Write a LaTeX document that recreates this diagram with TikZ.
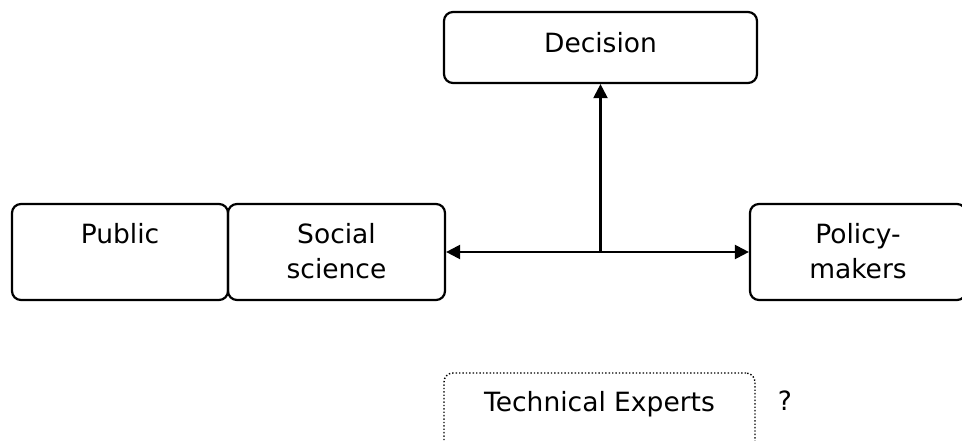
\documentclass[tikz,border=0pt]{standalone}
\usepackage{fontspec}
\setmainfont{DejaVu Sans}
\usetikzlibrary{arrows.meta}
\begin{document}
\begin{tikzpicture}[x=1pt,y=-1pt,
  box/.style={draw, line width=2.2pt, rounded corners=9pt, inner sep=0pt},
  dotbox/.style={draw, line width=1.4pt, rounded corners=9pt, inner sep=0pt, dash pattern=on 1.4pt off 2pt},
  lbl/.style={anchor=north, inner sep=0pt, align=center, font=\fontsize{26.5}{35}\selectfont},
  conn/.style={line width=2.2pt},
  tip/.style={-{Triangle[length=14pt,width=14pt]}}]
\useasboundingbox (0,0) rectangle (962,441);
% boxes
\node[box, minimum width=313pt, minimum height=71pt] (dec) at (600.5,47.5) {};
\node[box, minimum width=216pt, minimum height=96pt] (pub) at (120,252) {};
\node[box, minimum width=217pt, minimum height=96pt] (soc) at (336.5,252) {};
\node[box, minimum width=216pt, minimum height=96pt] (pol) at (858,252) {};
\node[dotbox, minimum width=311pt, minimum height=96pt] (tec) at (599.5,421) {};
% texts
\node[lbl] (decT) at ([yshift=-21pt]dec.north) {Decision};
\node[lbl] (pubT) at ([yshift=-20pt]pub.north) {Public};
\node[lbl] (socT) at ([yshift=-20pt]soc.north) {Social\\science};
\node[lbl] (polT) at ([yshift=-20pt]pol.north) {Policy-\\makers};
\node[lbl] (tecT) at ([yshift=-19pt]tec.north) {Technical Experts};
\node[anchor=base, inner sep=0pt, font=\fontsize{26.5}{35}\selectfont] (q) at (785,410) {?};
% connectors
\coordinate (j) at (dec.south |- soc.east);
\draw[conn, tip] (j) -- (dec.south);
\draw[conn, tip] (j) -- (soc.east);
\draw[conn, tip] (j) -- (pol.west);
\end{tikzpicture}
\end{document}
